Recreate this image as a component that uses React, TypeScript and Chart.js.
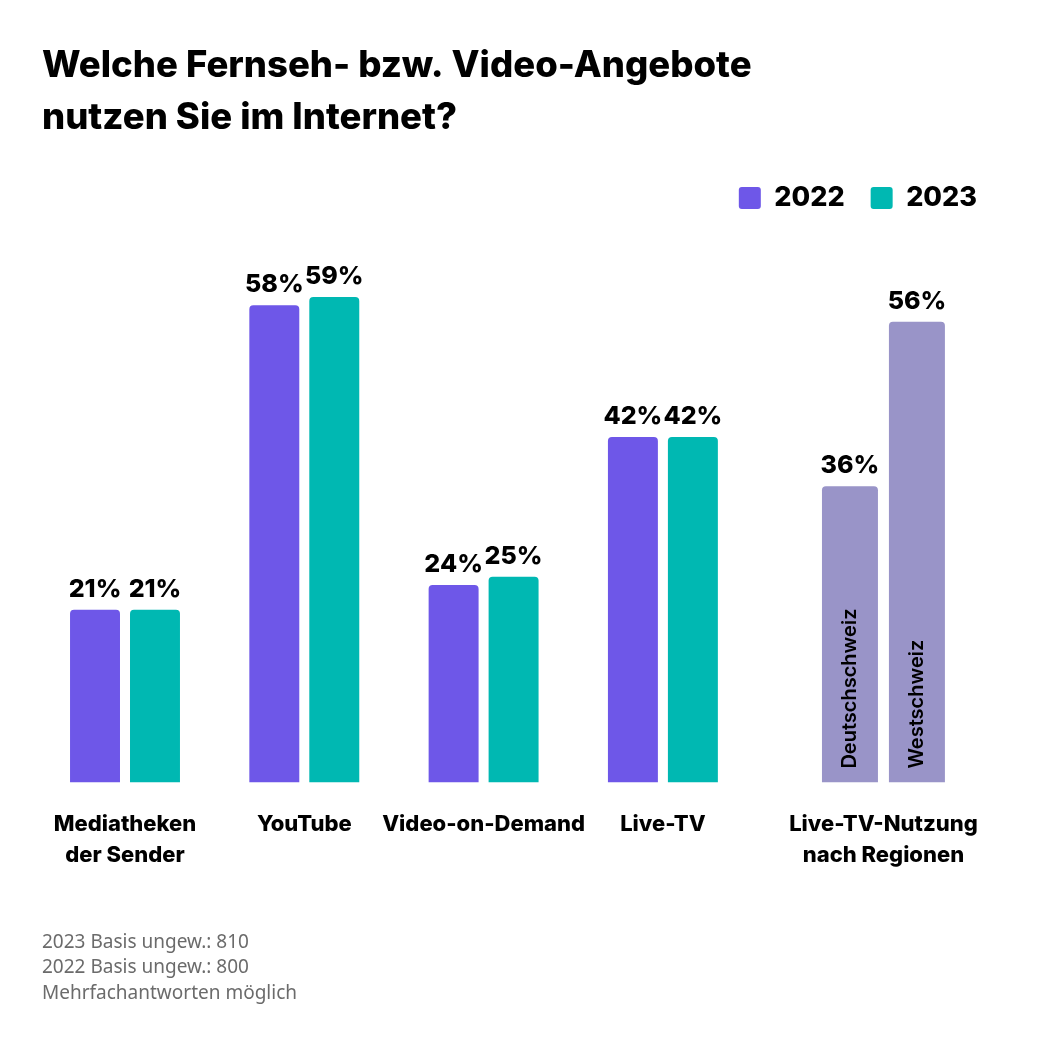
import React, { useEffect, useRef } from "react";
import { Chart, registerables } from "chart.js";

Chart.register(...registerables);

// ---- Data ----
const titleLines = ["Welche Fernseh- bzw. Video-Angebote", "nutzen Sie im Internet?"];
const categories: (string | string[])[] = [
  ["Mediatheken", "der Sender"],
  "YouTube",
  "Video-on-Demand",
  "Live-TV",
  ["Live-TV-Nutzung", "nach Regionen"],
];
const seriesNames = ["2022", "2023"];
const values2022 = [21, 58, 24, 42];
const values2023 = [21, 59, 25, 42];
const regionNames = ["Deutschschweiz", "Westschweiz"];
const regionValues = [36, 56];
const footnotes = [
  "2023 Basis ungew.: 810",
  "2022 Basis ungew.: 800",
  "Mehrfachantworten möglich",
];

// ---- Layout / style ----
const categoryPositions = [0, 1, 2, 3, 4.23];
const PURPLE = "#6e57e8";
const TEAL = "#00b8b2";
const REGION = "#9994c8";
const HEAD_FONT = "Inter";

const valueLabelPlugin = {
  id: "valueLabels",
  afterDatasetsDraw(chart: any) {
    const ctx = chart.ctx;
    ctx.save();
    chart.data.datasets.forEach((ds: any, di: number) => {
      const meta = chart.getDatasetMeta(di);
      meta.data.forEach((el: any, i: number) => {
        const v = ds.data[i].y;
        ctx.font = `800 25px ${HEAD_FONT}`;
        ctx.fillStyle = "#000";
        ctx.textAlign = "center";
        ctx.textBaseline = "alphabetic";
        ctx.fillText(`${v}%`, el.x, el.y - 13);
        if (ds.regionLabel) {
          ctx.save();
          ctx.translate(el.x, el.base - 14);
          ctx.rotate(-Math.PI / 2);
          ctx.font = `600 20px ${HEAD_FONT}`;
          ctx.textAlign = "left";
          ctx.textBaseline = "middle";
          ctx.fillText(ds.label, 0, 0);
          ctx.restore();
        }
      });
    });
    ctx.restore();
  },
};

export default function App() {
  const ref = useRef<HTMLCanvasElement | null>(null);

  useEffect(() => {
    if (!ref.current) return;
    const barStyle = {
      borderRadius: { topLeft: 4, topRight: 4, bottomLeft: 0, bottomRight: 0 },
      borderSkipped: false,
      skipNull: true,
    };
    const datasets: any[] = [
      {
        label: seriesNames[0],
        data: values2022.map((v, i) => ({ x: categoryPositions[i], y: v })),
        backgroundColor: PURPLE,
        categoryPercentage: 0.669,
        barPercentage: 0.833,
        ...barStyle,
      },
      {
        label: seriesNames[1],
        data: values2023.map((v, i) => ({ x: categoryPositions[i], y: v })),
        backgroundColor: TEAL,
        categoryPercentage: 0.669,
        barPercentage: 0.833,
        ...barStyle,
      },
      ...regionNames.map((name, j) => ({
        label: name,
        regionLabel: true,
        data: [{ x: categoryPositions[4], y: regionValues[j] }],
        backgroundColor: REGION,
        categoryPercentage: 0.747,
        barPercentage: 0.836,
        ...barStyle,
      })),
    ];

    const chart = new Chart(ref.current, {
      type: "bar",
      data: { datasets },
      plugins: [valueLabelPlugin],
      options: {
        animation: false,
        responsive: true,
        maintainAspectRatio: false,
        layout: { padding: { left: 42, right: 39, top: 0, bottom: 0 } },
        plugins: {
          title: {
            display: true,
            text: titleLines,
            align: "start",
            color: "#000",
            font: { family: HEAD_FONT, size: 36.5, weight: "800", lineHeight: 1.43 },
            padding: { top: 40, bottom: 14 },
          },
          subtitle: {
            display: true,
            position: "bottom",
            text: footnotes,
            align: "start",
            color: "#6b6b6b",
            font: { family: "Noto Sans", size: 19, weight: "400", lineHeight: 1.34 },
            padding: { top: 33, bottom: 36 },
          },
          legend: {
            display: true,
            position: "top",
            align: "end",
            labels: {
              boxWidth: 22,
              boxHeight: 22,
              useBorderRadius: true,
              borderRadius: 3,
              color: "#000",
              padding: 26,
              font: { family: HEAD_FONT, size: 27, weight: "800" },
              filter: (item: any) => item.datasetIndex < 2,
            },
          },
          tooltip: { enabled: false },
        },
        scales: {
          x: {
            type: "linear",
            offset: false,
            min: (42 - 125) / 179.3,
            max: (1003 - 125) / 179.3,
            grid: { display: false, drawTicks: false, offset: false },
            border: { display: false },
            afterBuildTicks: (scale: any) => {
              scale.ticks = categoryPositions.map((v) => ({ value: v }));
            },
            ticks: {
              autoSkip: false,
              maxRotation: 0,
              padding: 26,
              color: "#000",
              font: { family: HEAD_FONT, size: 22, weight: "800", lineHeight: 1.41 },
              callback: (_v: any, idx: number) => categories[idx],
            },
          },
          y: {
            display: false,
            min: 0,
            max: 68.2,
          },
        },
      },
    } as any);
    return () => chart.destroy();
  }, []);

  return (
    <div
      style={{
        position: "fixed",
        left: 0,
        top: 0,
        width: 1042,
        height: 1042,
        background: "#fff",
      }}
    >
      <canvas ref={ref} />
    </div>
  );
}
